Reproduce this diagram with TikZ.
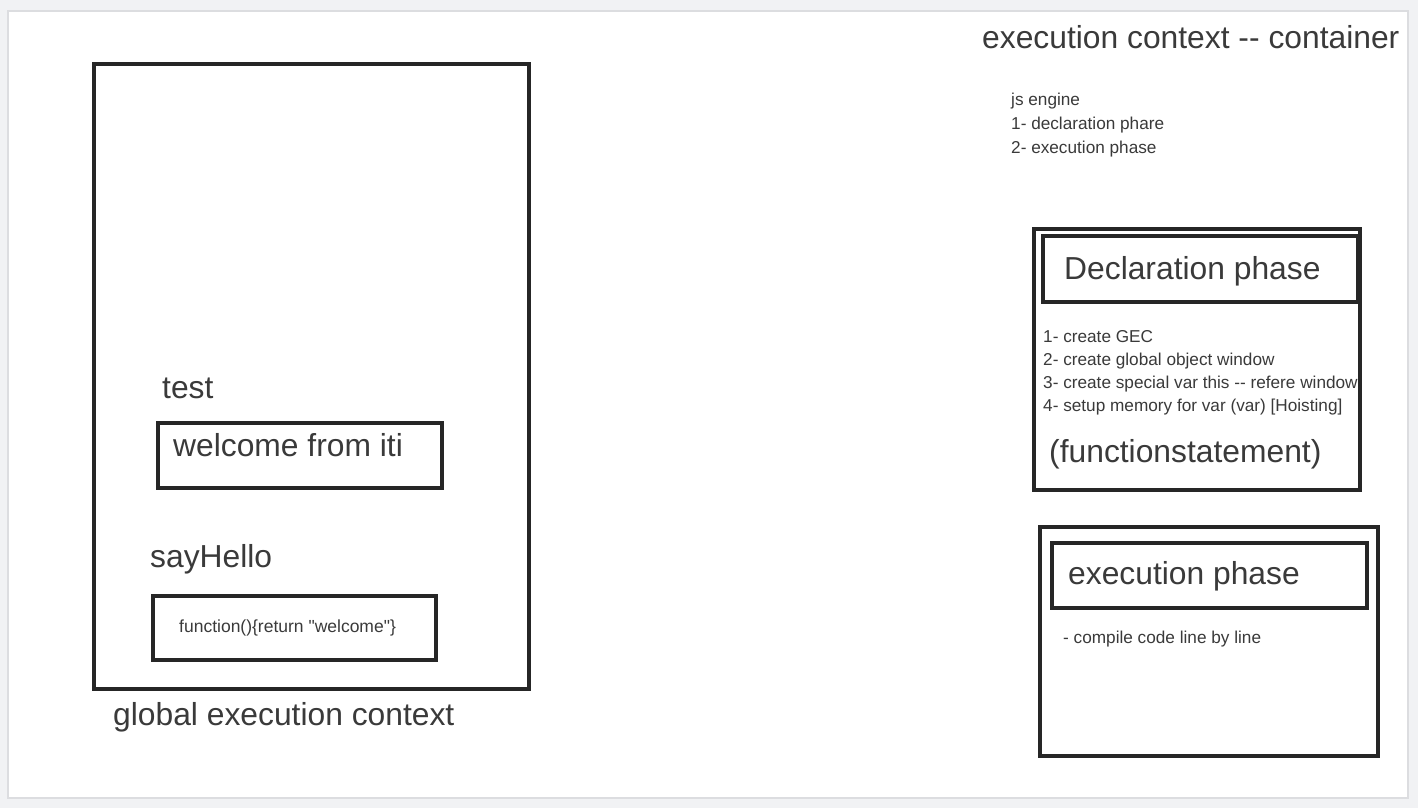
\documentclass[tikz,border=0pt]{standalone}
\usepackage{fontspec}
\setmainfont{Liberation Sans}
\usetikzlibrary{positioning}
\definecolor{ink}{HTML}{262626}
\definecolor{txt}{HTML}{3A3A3A}
\definecolor{page}{HTML}{F1F2F4}
\definecolor{rim}{HTML}{DCDDE0}

\begin{document}
\begin{tikzpicture}[x=1pt,y=-1pt,
	box/.style={draw=ink,line width=3.5pt},
	big/.style={anchor=west,inner sep=0pt,text=txt,font=\fontsize{31.8}{34}\selectfont},
	small/.style={anchor=west,inner sep=0pt,text=txt,font=\fontsize{17.2}{20}\selectfont}]
\fill[page] (0,0) rectangle (1418,808);
\draw[rim,fill=white,line width=2pt] (8,11) rectangle (1408,798);
\useasboundingbox (0,0) rectangle (1418,808);
% global execution context
\draw[box] (94,64) rectangle (529,689);
\draw[box] (158,423) rectangle (442,488);
\draw[box] (153,596) rectangle (436,660);
\node[big] (test) at (162,388) {test};
\node[big] (welcome) at (173,445) {welcome from iti};
\node[big] (sayhello) at (150,559) {sayHello};
\node[small,font=\fontsize{17.5}{20}\selectfont] (fn) at (179,628) {function()\{return \textquotedbl welcome\textquotedbl\}};
\node[big] (gec) at (113,717) {global execution context};
% right side
\node[big] (title) at (982,37) {execution context -{}- container};
\node[small] (engine) at (1011,101) {js engine};
\node[small] (step1) at (1011,125) {1- declaration phare};
\node[small] (step2) at (1011,149) {2- execution phase};
% declaration phase
\draw[box] (1034,229) rectangle (1360,490);
\draw[box] (1043,236) rectangle (1358,302);
\node[big] (decl) at (1064,271) {Declaration phase};
\node[small] (d1) at (1043,337) {1- create GEC};
\node[small] (d2) at (1043,361) {2- create global object window};
\node[small] (d3) at (1043,384) {3- create special var this -{}- refere window};
\node[small] (d4) at (1043,407) {4- setup memory for var (var) [Hoisting]};
\node[big] (fs) at (1049,454) {(functionstatement)};
% execution phase
\draw[box] (1040,527) rectangle (1378,756);
\draw[box] (1052,543) rectangle (1367,608);
\node[big] (exec) at (1068,576) {execution phase};
\node[small] (e1) at (1063,639) {- compile code line by line};
\end{tikzpicture}
\end{document}
